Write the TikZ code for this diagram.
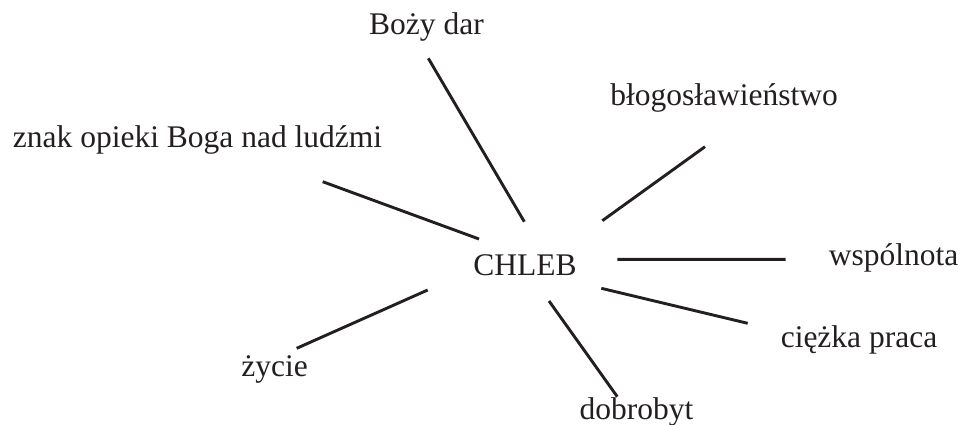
\documentclass[tikz,border=0pt]{standalone}
\usepackage{fontspec}
\setmainfont{Liberation Serif}
\usetikzlibrary{positioning}
\definecolor{ink}{RGB}{35,31,32}

\begin{document}
\begin{tikzpicture}[
            x=1pt,
            y=-1pt,
            line width=2.9pt,
            font=\fontsize{31.5}{36}\selectfont
        ]
        \tikzstyle{every node}=[inner sep=0pt, anchor=base, text=ink]
        \tikzstyle{spoke}=[draw=ink, line cap=butt]

        \useasboundingbox (0,0) rectangle (963,425);

        \node (W0) at (525,275) {CHLEB};
        \node (W1) at (426.5,35) {Boży dar};
        \node (W2) at (724,106) {błogosławieństwo};
        \node (W3) at (197.5,147) {znak opieki Boga nad ludźmi};
        \node (W4) at (893.5,265) {wspólnota};
        \node (W5) at (859,347) {ciężka praca};
        \node (W6) at (636.5,419) {dobrobyt};
        \node (W7) at (274.5,376) {życie};

        % line ends
        \coordinate (A1) at (524.3,221.7); \coordinate (B1) at (428.3,58.3);
        \coordinate (A2) at (602.3,220.7); \coordinate (B2) at (705,146.7);
        \coordinate (A3) at (479,239);     \coordinate (B3) at (322.7,181.7);
        \coordinate (A4) at (617.3,259.3); \coordinate (B4) at (785.7,259.3);
        \coordinate (A5) at (601.3,288.3); \coordinate (B5) at (747.7,323.3);
        \coordinate (A6) at (549,301);     \coordinate (B6) at (617.3,396.7);
        \coordinate (A7) at (427.7,290);   \coordinate (B7) at (296.7,348.3);

        \path[spoke] (A1) -- (B1)
        (A2) -- (B2)
        (A3) -- (B3)
        (A4) -- (B4)
        (A5) -- (B5)
        (A6) -- (B6)
        (A7) -- (B7);
    \end{tikzpicture}
\end{document}
